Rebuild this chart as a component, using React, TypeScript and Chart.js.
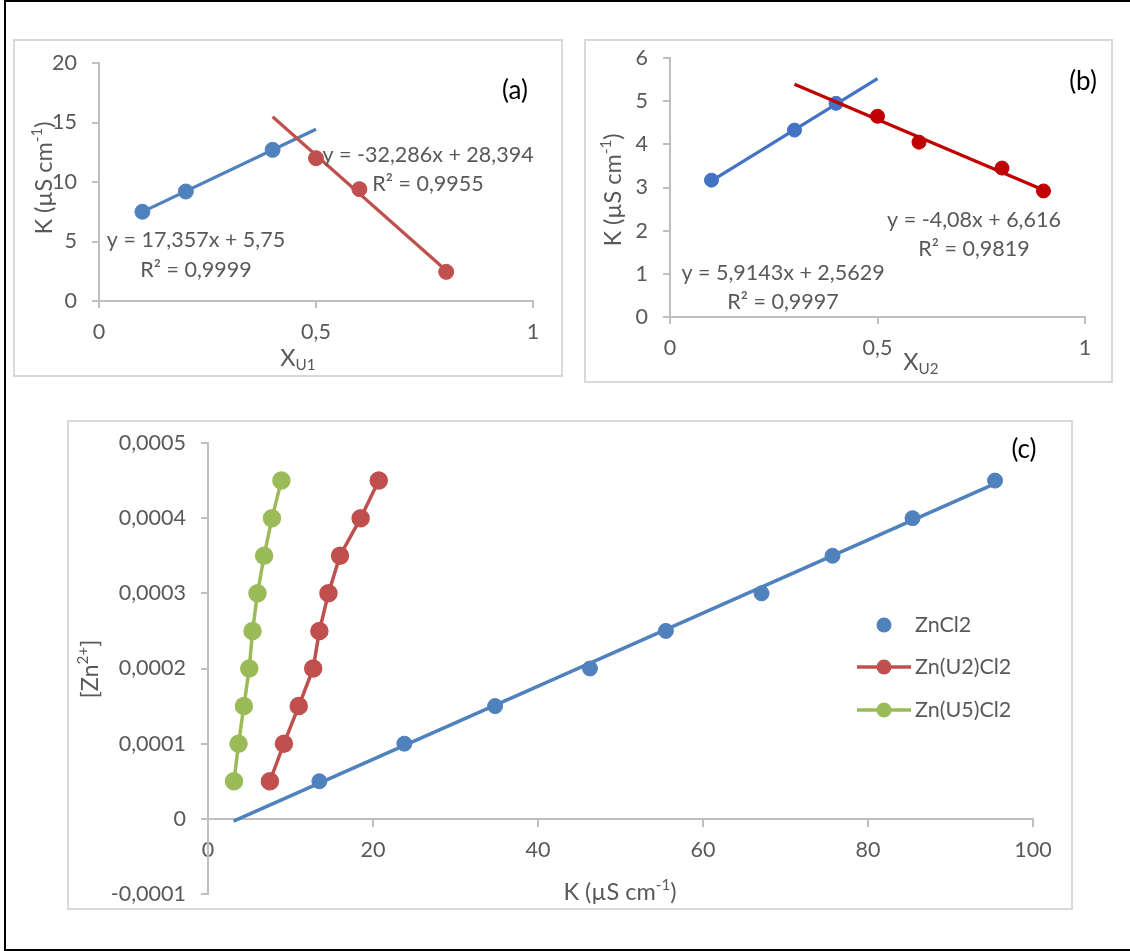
import React, { useEffect, useRef } from "react";
import { Chart, registerables } from "chart.js";

Chart.register(...registerables);

// ---------- Panel (a) ----------
const aBlueX = [0.1, 0.2, 0.4];
const aBlueY = [7.5, 9.2, 12.7];
const aRedX = [0.5, 0.6, 0.8];
const aRedY = [12.0, 9.4, 2.45];
const aBlueTrendX = [0.1, 0.5];
const aBlueTrendY = [7.49, 14.43];
const aRedTrendX = [0.4, 0.8];
const aRedTrendY = [15.48, 2.56];
const aXTicks = [0, 0.5, 1];
const aXTickLabels = ["0", "0,5", "1"];
const aYTicks = [0, 5, 10, 15, 20];
const aYTickLabels = ["0", "5", "10", "15", "20"];
const aEqBlue = ["y = 17,357x + 5,75", "R² = 0,9999"];
const aEqRed = ["y = -32,286x + 28,394", "R² = 0,9955"];

// ---------- Panel (b) ----------
const bBlueX = [0.1, 0.3, 0.4];
const bBlueY = [3.17, 4.33, 4.95];
const bRedX = [0.5, 0.6, 0.8, 0.9];
const bRedY = [4.65, 4.05, 3.45, 2.92];
const bBlueTrendX = [0.1, 0.5];
const bBlueTrendY = [3.154, 5.52];
const bRedTrendX = [0.3, 0.9];
const bRedTrendY = [5.392, 2.944];
const bXTicks = [0, 0.5, 1];
const bXTickLabels = ["0", "0,5", "1"];
const bYTicks = [0, 1, 2, 3, 4, 5, 6];
const bYTickLabels = ["0", "1", "2", "3", "4", "5", "6"];
const bEqBlue = ["y = 5,9143x + 2,5629", "R² = 0,9997"];
const bEqRed = ["y = -4,08x + 6,616", "R² = 0,9819"];

// ---------- Panel (c) ----------
const cZn = [0.00005, 0.0001, 0.00015, 0.0002, 0.00025, 0.0003, 0.00035, 0.0004, 0.00045];
const cZnCl2K = [13.5, 23.8, 34.8, 46.3, 55.5, 67.1, 75.7, 85.4, 95.4];
const cU2K = [7.5, 9.2, 11.0, 12.75, 13.5, 14.6, 16.0, 18.5, 20.7];
const cU5K = [3.15, 3.7, 4.35, 5.0, 5.4, 6.0, 6.8, 7.75, 8.9];
const cTrendK = [3.1, 95.4];
const cTrendZn = [-0.000003, 0.000446];
const cSeriesNames = ["ZnCl2", "Zn(U2)Cl2", "Zn(U5)Cl2"];
const cXTicks = [0, 20, 40, 60, 80, 100];
const cXTickLabels = ["0", "20", "40", "60", "80", "100"];
const cYTicks = [-0.0001, 0, 0.0001, 0.0002, 0.0003, 0.0004, 0.0005];
const cYTickLabels = ["-0,0001", "0", "0,0001", "0,0002", "0,0003", "0,0004", "0,0005"];

// ---------- styling ----------
const FONT = "Lato, 'Open Sans', sans-serif";
const FS = 21.5;
const TS = 23.5; // axis title size
const GRAY = "#595959";
const AXIS = "#BFBFBF";
const PANEL_BORDER = "#D9D9D9";
const M = 40; // canvas margin around each panel box

type Part = { t: string; s?: "sup" | "sub" };
type TextItem = {
  x: number;
  y: number;
  parts: Part[];
  align?: "center" | "left";
  rotate?: boolean;
  color?: string;
  size?: number;
};
type Rect = { x: number; y: number; w: number; h: number };
type Area = { l: number; t: number; r: number; b: number };

const pts = (xs: number[], ys: number[]) => xs.map((x, i) => ({ x, y: ys[i] }));

function textPlugin(id: string, items: TextItem[], ox: number, oy: number) {
  return {
    id,
    afterDraw(chart: any) {
      const ctx = chart.ctx as CanvasRenderingContext2D;
      for (const it of items) {
        const size = it.size ?? FS;
        const widths = it.parts.map((p) => {
          ctx.font = `${p.s ? size * 0.65 : size}px ${FONT}`;
          return ctx.measureText(p.t).width;
        });
        const total = widths.reduce((a, b) => a + b, 0);
        ctx.save();
        ctx.fillStyle = it.color ?? GRAY;
        ctx.translate(it.x - ox, it.y - oy);
        if (it.rotate) ctx.rotate(-Math.PI / 2);
        ctx.textBaseline = "middle";
        ctx.textAlign = "left";
        let cx = it.align === "left" ? 0 : -total / 2;
        it.parts.forEach((p, i) => {
          const fs = p.s ? size * 0.65 : size;
          ctx.font = `${fs}px ${FONT}`;
          const dy = p.s === "sup" ? -size * 0.3 : p.s === "sub" ? size * 0.3 : 0;
          ctx.fillText(p.t, cx, dy);
          cx += widths[i];
        });
        ctx.restore();
      }
    },
  };
}

function scaleCfg(min: number, max: number, ticks: number[], labels: string[], pad: number, extra: any = {}) {
  return {
    type: "linear",
    min,
    max,
    afterBuildTicks: (s: any) => {
      s.ticks = ticks.map((v) => ({ value: v }));
    },
    ticks: {
      color: GRAY,
      font: { family: FONT, size: FS },
      padding: pad,
      autoSkip: false,
      maxRotation: 0,
      callback: (_v: any, i: number) => labels[i],
    },
    grid: { drawOnChartArea: false, drawTicks: true, tickLength: 7, color: AXIS, lineWidth: 2 },
    border: { display: true, color: AXIS, width: 2 },
    ...extra,
  };
}

function lineDs(data: any[], color: string, width = 3) {
  return {
    data,
    showLine: true,
    borderColor: color,
    backgroundColor: color,
    borderWidth: width,
    pointRadius: 0,
    pointHoverRadius: 0,
  };
}

function pointDs(data: any[], color: string, r = 7) {
  return {
    data,
    showLine: false,
    borderColor: color,
    backgroundColor: color,
    pointBackgroundColor: color,
    pointBorderColor: color,
    pointBorderWidth: 1,
    pointRadius: r,
  };
}

function canvasRect(g: Rect): Rect {
  return { x: g.x - M, y: g.y - M, w: g.w + 2 * M, h: g.h + 2 * M };
}

// Build x/y scales + padding so that the plot area lands exactly on `area` (page coords)
function layoutFor(cv: Rect, area: Area, xCfg: any, yCfg: any, xInArea: boolean) {
  const yWidth = area.l - cv.x;
  const xHeight = cv.y + cv.h - area.b;
  const ys = { ...yCfg, afterFit: (s: any) => { s.width = yWidth; } };
  const xs = { ...xCfg, afterFit: (s: any) => { s.height = xInArea ? 0 : xHeight; } };
  const padding = {
    left: 0,
    top: area.t - cv.y,
    right: cv.x + cv.w - area.r,
    bottom: xInArea ? xHeight : 0,
  };
  return { xs, ys, padding };
}

function makeOptions(xs: any, ys: any, padding: any) {
  return {
    responsive: false,
    animation: false,
    devicePixelRatio: 1,
    events: [],
    layout: { padding },
    plugins: { legend: { display: false }, tooltip: { enabled: false }, title: { display: false } },
    scales: { x: xs, y: ys },
  };
}

// Panel boxes (page coordinates)
const A: Rect = { x: 13, y: 39, w: 550, h: 338 };
const B: Rect = { x: 584, y: 39, w: 529, h: 344 };
const C: Rect = { x: 67, y: 420, w: 1006, h: 490 };
const AREA_A: Area = { l: 99, t: 63, r: 533, b: 301 };
const AREA_B: Area = { l: 670, t: 58, r: 1085, b: 317 };
const AREA_C: Area = { l: 208, t: 443, r: 1033, b: 894 };
const CV_A = canvasRect(A);
const CV_B = canvasRect(B);
const CV_C = canvasRect(C);

function useChart(ref: React.RefObject<HTMLCanvasElement>, build: () => any) {
  useEffect(() => {
    if (!ref.current) return;
    const chart = new Chart(ref.current, build());
    return () => chart.destroy();
  }, []);
}

export default function App() {
  const refA = useRef<HTMLCanvasElement>(null);
  const refB = useRef<HTMLCanvasElement>(null);
  const refC = useRef<HTMLCanvasElement>(null);

  useChart(refA, () => {
    const blue = "#4F81BD";
    const red = "#C0504D";
    const texts: TextItem[] = [
      { x: 196, y: 240, parts: [{ t: aEqBlue[0] }] },
      { x: 196, y: 270, parts: [{ t: aEqBlue[1] }] },
      { x: 428, y: 155, parts: [{ t: aEqRed[0] }] },
      { x: 428, y: 184, parts: [{ t: aEqRed[1] }] },
      { x: 515, y: 91, parts: [{ t: "(a)" }], color: "#000000", size: 26 },
      { x: 44, y: 178, rotate: true, size: TS, parts: [{ t: "K (µS cm" }, { t: "-1", s: "sup" }, { t: ")" }] },
      { x: 298, y: 358, size: TS, parts: [{ t: "X" }, { t: "U1", s: "sub" }] },
    ];
    const L = layoutFor(
      CV_A,
      AREA_A,
      scaleCfg(0, 1, aXTicks, aXTickLabels, 11),
      scaleCfg(0, 20, aYTicks, aYTickLabels, 15),
      false
    );
    return {
      type: "scatter",
      data: {
        datasets: [
          { ...pointDs(pts(aBlueX, aBlueY), blue, 7.5), order: 1 },
          { ...pointDs(pts(aRedX, aRedY), red, 7.5), order: 2 },
          { ...lineDs(pts(aBlueTrendX, aBlueTrendY), blue, 3.2), order: 4 },
          { ...lineDs(pts(aRedTrendX, aRedTrendY), red, 3.2), order: 3 },
        ],
      },
      options: makeOptions(L.xs, L.ys, L.padding),
      plugins: [textPlugin("textA", texts, CV_A.x, CV_A.y)],
    };
  });

  useChart(refB, () => {
    const blue = "#4472C4";
    const red = "#C00000";
    const texts: TextItem[] = [
      { x: 783, y: 273, parts: [{ t: bEqBlue[0] }] },
      { x: 783, y: 302, parts: [{ t: bEqBlue[1] }] },
      { x: 974, y: 220, parts: [{ t: bEqRed[0] }] },
      { x: 974, y: 249, parts: [{ t: bEqRed[1] }] },
      { x: 1083, y: 82, parts: [{ t: "(b)" }], color: "#000000", size: 26 },
      { x: 613, y: 190, rotate: true, size: TS, parts: [{ t: "K (µS cm" }, { t: "-1", s: "sup" }, { t: ")" }] },
      { x: 921, y: 362, size: TS, parts: [{ t: "X" }, { t: "U2", s: "sub" }] },
    ];
    const L = layoutFor(
      CV_B,
      AREA_B,
      scaleCfg(0, 1, bXTicks, bXTickLabels, 11),
      scaleCfg(0, 6, bYTicks, bYTickLabels, 15),
      false
    );
    return {
      type: "scatter",
      data: {
        datasets: [
          { ...pointDs(pts(bBlueX, bBlueY), blue), order: 3 },
          { ...pointDs(pts(bRedX, bRedY), red), order: 2 },
          { ...lineDs(pts(bBlueTrendX, bBlueTrendY), blue, 3.2), order: 4 },
          { ...lineDs(pts(bRedTrendX, bRedTrendY), red, 3.2), order: 1 },
        ],
      },
      options: makeOptions(L.xs, L.ys, L.padding),
      plugins: [textPlugin("textB", texts, CV_B.x, CV_B.y)],
    };
  });

  useChart(refC, () => {
    const blue = "#4F81BD";
    const red = "#C0504D";
    const green = "#9BBB59";
    const colors = [blue, red, green];
    const texts: TextItem[] = [
      { x: 1024, y: 450, parts: [{ t: "(c)" }], color: "#000000", size: 26 },
      { x: 90, y: 669, rotate: true, size: TS, parts: [{ t: "[Zn" }, { t: "2+", s: "sup" }, { t: "]" }] },
      { x: 620, y: 892, size: TS, parts: [{ t: "K (µS cm" }, { t: "-1", s: "sup" }, { t: ")" }] },
    ];
    const legendPlugin = {
      id: "legendC",
      afterDraw(chart: any) {
        const ctx = chart.ctx as CanvasRenderingContext2D;
        const rows = [625, 667, 710];
        rows.forEach((py, i) => {
          const y = py - CV_C.y;
          const mx = 884 - CV_C.x;
          ctx.save();
          ctx.fillStyle = colors[i];
          ctx.strokeStyle = colors[i];
          if (i > 0) {
            ctx.lineWidth = 3.5;
            ctx.beginPath();
            ctx.moveTo(857 - CV_C.x, y);
            ctx.lineTo(911 - CV_C.x, y);
            ctx.stroke();
          }
          ctx.beginPath();
          ctx.arc(mx, y, 7.5, 0, Math.PI * 2);
          ctx.fill();
          ctx.fillStyle = GRAY;
          ctx.font = `${FS}px ${FONT}`;
          ctx.textBaseline = "middle";
          ctx.textAlign = "left";
          ctx.fillText(cSeriesNames[i], 915 - CV_C.x, y);
          ctx.restore();
        });
      },
    };
    const L = layoutFor(
      CV_C,
      AREA_C,
      scaleCfg(0, 100, cXTicks, cXTickLabels, 11, { position: { y: 0 } }),
      scaleCfg(-0.0001, 0.0005, cYTicks, cYTickLabels, 15),
      true
    );
    return {
      type: "scatter",
      data: {
        datasets: [
          { ...pointDs(pts(cZnCl2K, cZn), blue, 7.5), label: cSeriesNames[0], order: 1 },
          { ...lineDs(pts(cTrendK, cTrendZn), blue, 3.5), order: 4 },
          { ...lineDs(pts(cU2K, cZn), red, 3.5), pointRadius: 7.5, pointBackgroundColor: red, pointBorderColor: red, label: cSeriesNames[1], order: 2 },
          { ...lineDs(pts(cU5K, cZn), green, 3.5), pointRadius: 7.5, pointBackgroundColor: green, pointBorderColor: green, label: cSeriesNames[2], order: 3 },
        ],
      },
      options: makeOptions(L.xs, L.ys, L.padding),
      plugins: [textPlugin("textC", texts, CV_C.x, CV_C.y), legendPlugin],
    };
  });

  const box = (g: Rect) => (
    <div
      style={{
        position: "absolute",
        left: g.x,
        top: g.y,
        width: g.w,
        height: g.h,
        boxSizing: "border-box",
        border: `2px solid ${PANEL_BORDER}`,
        pointerEvents: "none",
      }}
    />
  );
  const cv = (g: Rect, ref: any) => (
    <canvas
      ref={ref}
      width={g.w}
      height={g.h}
      style={{ position: "absolute", left: g.x, top: g.y, width: g.w, height: g.h }}
    />
  );

  return (
    <div
      style={{
        position: "fixed",
        left: 0,
        top: 0,
        width: 1130,
        height: 951,
        background: "#ffffff",
        overflow: "hidden",
      }}
    >
      <div
        style={{
          position: "absolute",
          left: 4,
          top: 0,
          width: 1140,
          height: 951,
          boxSizing: "border-box",
          borderLeft: "2px solid #000",
          borderTop: "2px solid #000",
          borderBottom: "2px solid #000",
        }}
      />
      {box(A)}
      {box(B)}
      {box(C)}
      {cv(CV_A, refA)}
      {cv(CV_B, refB)}
      {cv(CV_C, refC)}
    </div>
  );
}
